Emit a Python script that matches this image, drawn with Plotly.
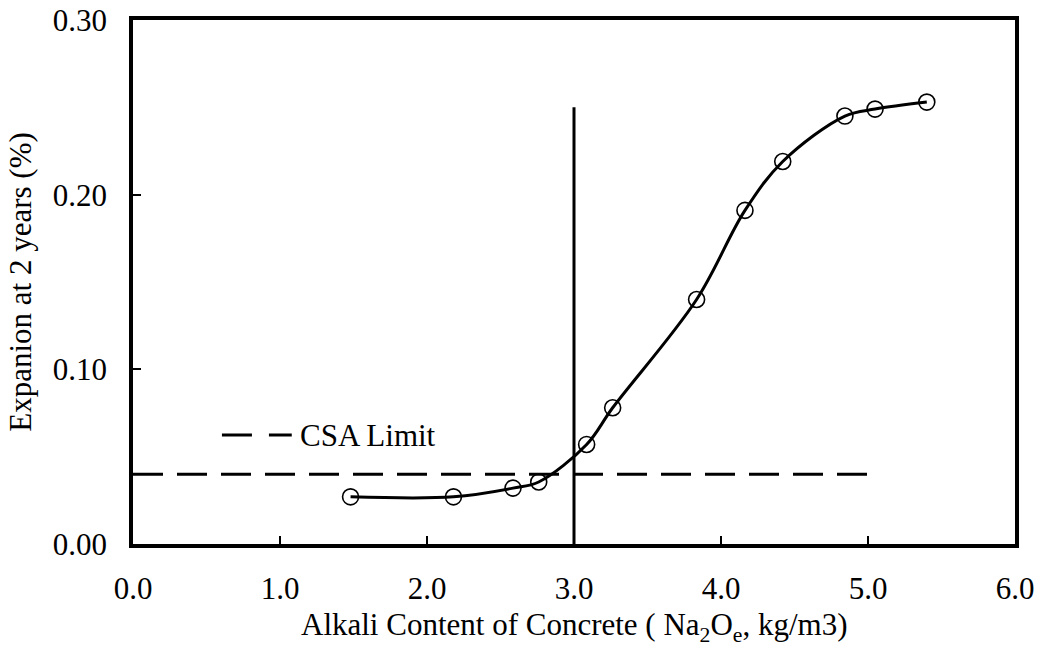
import plotly.graph_objects as go

# Measured expansion at 2 years versus concrete alkali content
alkali = [1.48, 2.18, 2.585, 2.76, 3.086, 3.263, 3.834, 4.163, 4.42, 4.843, 5.048, 5.40]
expansion = [0.027, 0.027, 0.032, 0.0355, 0.057, 0.078, 0.140, 0.191, 0.219, 0.245, 0.249, 0.253]

# CSA expansion limit and the alkali threshold line
csa_limit = 0.04
csa_x = [0.0, 5.0]
threshold_alkali = 3.0
threshold_top = 0.25

x_ticks = [0, 1, 2, 3, 4, 5, 6]
x_ticktext = ["0.0", "1.0", "2.0", "3.0", "4.0", "5.0", "6.0"]
y_ticks = [0.0, 0.1, 0.2, 0.3]
y_ticktext = ["0.00", "0.10", "0.20", "0.30"]

FONT = "Liberation Serif, Times New Roman, serif"
FS = 31

fig = go.Figure()

# CSA limit (dashed)
fig.add_trace(go.Scatter(
    x=csa_x, y=[csa_limit, csa_limit], mode="lines",
    line=dict(color="black", width=3, dash="30px,14px"),
    showlegend=False, hoverinfo="skip",
))

# Vertical threshold line
fig.add_trace(go.Scatter(
    x=[threshold_alkali, threshold_alkali], y=[0, threshold_top], mode="lines",
    line=dict(color="black", width=3),
    showlegend=False, hoverinfo="skip",
))

# Smoothed expansion curve
fig.add_trace(go.Scatter(
    x=alkali, y=expansion, mode="lines",
    line=dict(color="black", width=3, shape="spline", smoothing=1),
    showlegend=False,
))

# Measured points
fig.add_trace(go.Scatter(
    x=alkali, y=expansion, mode="markers",
    marker=dict(symbol="circle-open", size=16, color="black", line=dict(width=1.6, color="black")),
    showlegend=False,
))

# Legend key for the CSA limit
fig.add_shape(
    type="line", xref="x", yref="y",
    x0=0.605, x1=1.08, y0=0.0624, y1=0.0624,
    line=dict(color="black", width=3, dash="30px,17px"),
)
fig.add_annotation(
    x=1.12, y=0.0624, xref="x", yref="y", text="CSA Limit",
    showarrow=False, xanchor="left", yanchor="middle",
    font=dict(family=FONT, size=FS, color="black"),
)

# X-axis title placed below the tick labels
fig.add_annotation(
    x=0.5, y=0, xref="paper", yref="paper", yanchor="top", yshift=-61,
    text="Alkali Content of Concrete ( Na<sub>2</sub>O<sub>e</sub>, kg/m3)",
    showarrow=False, font=dict(family=FONT, size=FS, color="black"),
)

axis_common = dict(
    showline=True, linecolor="black", linewidth=3.5, mirror=True,
    showgrid=False, zeroline=False, automargin=False,
    ticks="inside", ticklen=8, tickwidth=1.5, tickcolor="black",
    tickfont=dict(family=FONT, size=FS, color="black"),
)

fig.update_xaxes(
    range=[0, 6], tickvals=x_ticks, ticktext=x_ticktext,
    ticklabelstandoff=14,
    **axis_common,
)
fig.update_yaxes(
    range=[0, 0.30], tickvals=y_ticks, ticktext=y_ticktext,
    ticklabelstandoff=16,
    title=dict(text="Expanion at 2 years (%)",
               font=dict(family=FONT, size=FS, color="black"), standoff=13),
    **axis_common,
)

fig.update_layout(
    width=1042, height=645,
    margin=dict(l=133, r=27, t=20, b=101),
    paper_bgcolor="white", plot_bgcolor="white",
    font=dict(family=FONT, color="black"),
)

fig.write_html("out.html")
